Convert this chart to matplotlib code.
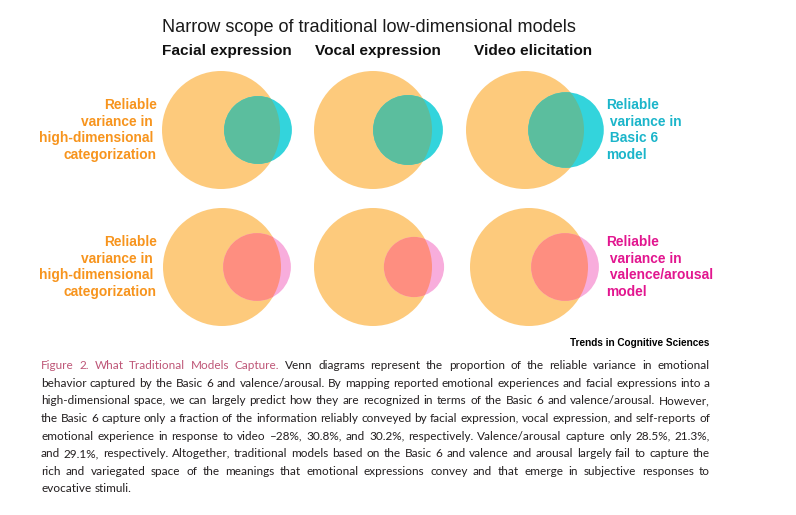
import numpy as np
import matplotlib
matplotlib.use("Agg")
import matplotlib.pyplot as plt
from matplotlib.patches import Circle
from matplotlib import font_manager

title = "Narrow scope of traditional low-dimensional models"
panels = ["Facial expression", "Vocal expression", "Video elicitation"]

# area of the low-dimensional model circle relative to the high-dimensional one
basic6_area = [0.33, 0.35, 0.41]
valaro_area = [0.33, 0.26, 0.33]

# percentages quoted in the legend text
basic6_pct = ["28%", "30.8%", "30.2%"]
valaro_pct = ["28.5%", "21.3%", "29.1%"]

left_label = ["Reliable", "variance in ", "high-dimensional ", "categorization"]
basic6_label = ["Reliable", " variance in", " Basic 6", "model"]
valaro_label = ["Reliable", " variance in", " valence/arousal", "model"]

ORANGE = "#FDCA7C"
TEAL = "#33D4DC"
TEAL_OV = "#5BBE9E"
PINK = "#F8ADDC"
PINK_OV = "#FE8E80"
ORANGE_TXT = "#F7941D"
TEAL_TXT = "#1BB5CA"
PINK_TXT = "#E2168F"
ROSE = "#BE5677"
INK = "#231F20"

caption_lines = [
    "Figure 2. What Traditional Models Capture. Venn diagrams represent the proportion of the reliable variance in emotional",
    "behavior captured by the Basic 6 and valence/arousal. By mapping reported emotional experiences and facial expressions into a",
    "high-dimensional space, we can largely predict how they are recognized in terms of the Basic 6 and valence/arousal. However,",
    "the Basic 6 capture only a fraction of the information reliably conveyed by facial expression, vocal expression, and self-reports of",
    "emotional experience in response to video \u2013{}, {}, and {}, respectively. Valence/arousal capture only {}, {},".format(
        *basic6_pct, *valaro_pct[:2]),
    "and {}, respectively. Altogether, traditional models based on the Basic 6 and valence and arousal largely fail to capture the".format(
        valaro_pct[2]),
    "rich and variegated space of the meanings that emotional expressions convey and that emerge in subjective responses to",
    "evocative stimuli.",
]
n_rose_words = 6


def has_font(name):
    try:
        font_manager.findfont(font_manager.FontProperties(family=name),
                              fallback_to_default=False)
        return True
    except ValueError:
        return False


W, H = 796, 515
fig = plt.figure(figsize=(W / 100, H / 100), dpi=100)
fig.patch.set_facecolor("white")
ax = fig.add_axes([0, 0, 1, 1])
ax.set_xlim(0, W)
ax.set_ylim(H, 0)
ax.set_axis_off()
renderer = fig.canvas.get_renderer()

sans = "Liberation Sans"
narrow = "Liberation Sans Narrow" if has_font("Liberation Sans Narrow") else None

# venn circles
big_r = 59
row_y = [130, 267]
big_x = [[221, 373, 525], [222, 373, 529]]
small_dx = [[37, 35, 41], [35, 41, 36]]

for row, (areas, col, col_ov) in enumerate([(basic6_area, TEAL, TEAL_OV),
                                            (valaro_area, PINK, PINK_OV)]):
    cy = row_y[row]
    for i, a in enumerate(areas):
        cx = big_x[row][i]
        sx = cx + small_dx[row][i]
        r = big_r * np.sqrt(a)
        big = Circle((cx, cy), big_r, fc=ORANGE, ec="none")
        ax.add_patch(big)
        ax.add_patch(Circle((sx, cy), r, fc=col, ec="none"))
        ov = Circle((sx, cy), r, fc=col_ov, ec="none")
        ax.add_patch(ov)
        ov.set_clip_path(big)

# titles
ax.text(162, 31.5, title, fontsize=13.1, family=sans, color="#1a1a1a",
        ha="left", va="baseline")
for x, p in zip([162, 315, 474], panels):
    ax.text(x, 55, p, fontsize=11.1, family=sans, weight="bold", color="#111111",
            ha="left", va="baseline")

# side labels
step = 16.6
for y0 in [109, 246]:
    for k, line in enumerate(left_label):
        ax.text(157, y0 + k * step, line, fontsize=9.9, family=sans, weight="bold",
                color=ORANGE_TXT, ha="right", va="baseline")
for y0, lines, c in [(109, basic6_label, TEAL_TXT), (246, valaro_label, PINK_TXT)]:
    for k, line in enumerate(lines):
        ax.text(606, y0 + k * step, line, fontsize=9.9, family=sans, weight="bold",
                color=c, ha="left", va="baseline")

# journal tag
tag = ax.text(709, 346, "Trends in Cognitive Sciences", fontsize=8,
              family=narrow or sans, weight="heavy", color="black",
              ha="right", va="baseline")
tw = tag.get_window_extent(renderer).width
tag.set_fontsize(8 * 139 / tw)

# justified caption
x0, x1 = 41, 710
cap_size = 9.4
cap_family = narrow or ("Lato" if has_font("Lato") else sans)
widest = 0
for line in caption_lines:
    t = ax.text(0, 0, line, fontsize=cap_size, family=cap_family)
    widest = max(widest, t.get_window_extent(renderer).width)
    t.remove()
if widest > (x1 - x0) * 0.985:
    cap_size = cap_size * (x1 - x0) * 0.985 / widest

space = cap_size * 100 / 72 * 0.25
for k, line in enumerate(caption_lines):
    y = 369.3 + k * 17.6
    words = line.split(" ")
    texts = []
    for j, w in enumerate(words):
        c = ROSE if (k == 0 and j < n_rose_words) else INK
        texts.append(ax.text(0, y, w, fontsize=cap_size, family=cap_family,
                             color=c, ha="left", va="baseline"))
    widths = [t.get_window_extent(renderer).width for t in texts]
    if k < len(caption_lines) - 1 and len(words) > 1:
        gap = (x1 - x0 - sum(widths)) / (len(words) - 1)
    else:
        gap = space
    x = x0
    for t, w in zip(texts, widths):
        t.set_x(x)
        x += w + gap

fig.savefig("out.png", dpi=100, facecolor="white")
